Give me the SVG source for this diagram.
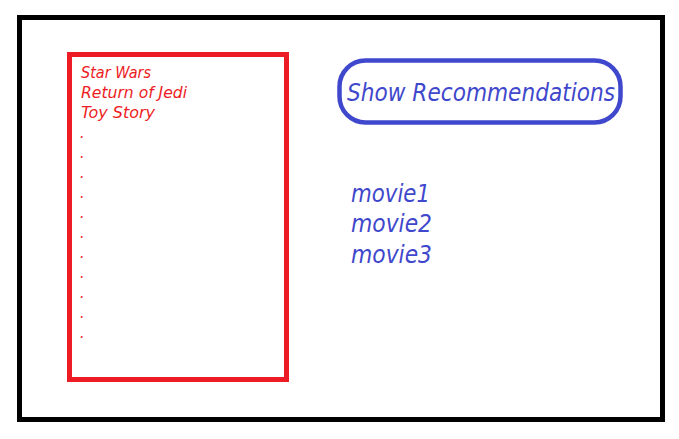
<svg xmlns="http://www.w3.org/2000/svg" width="679" height="439" viewBox="0 0 679 439">
<style>
.red{fill:#ed1c24;font-family:"DejaVu Sans Condensed","DejaVu Sans",sans-serif;font-style:oblique;font-size:15.5px}
.blue{fill:#3f48cc;font-family:"DejaVu Sans Condensed","DejaVu Sans",sans-serif;font-style:oblique}
</style>
<rect x="0" y="0" width="679" height="439" fill="#ffffff"/>
<g id="frame">
<rect x="19.5" y="17.5" width="643" height="402" fill="none" stroke="#000000" stroke-width="5"/>
</g>
<g id="movie-list">
<rect x="69.5" y="54.5" width="217" height="325" fill="none" stroke="#ed1c24" stroke-width="5"/>
<text class="red" x="81" y="78" textLength="70" lengthAdjust="spacingAndGlyphs">Star Wars</text>
<text class="red" x="81" y="98" textLength="106" lengthAdjust="spacingAndGlyphs">Return of Jedi</text>
<text class="red" x="81" y="118" textLength="74" lengthAdjust="spacingAndGlyphs">Toy Story</text>
<text class="red" x="80" y="138">.</text>
<text class="red" x="80" y="158">.</text>
<text class="red" x="80" y="178">.</text>
<text class="red" x="80" y="198">.</text>
<text class="red" x="80" y="218">.</text>
<text class="red" x="80" y="238">.</text>
<text class="red" x="80" y="258">.</text>
<text class="red" x="80" y="278">.</text>
<text class="red" x="80" y="298">.</text>
<text class="red" x="80" y="318">.</text>
<text class="red" x="80" y="338">.</text>
</g>
<g id="show-button">
<rect x="339.5" y="60.5" width="281" height="62" rx="26" ry="26" fill="none" stroke="#3f48cc" stroke-width="4.5"/>
<text class="blue" x="347" y="101" font-size="24" textLength="268" lengthAdjust="spacingAndGlyphs">Show Recommendations</text>
</g>
<g id="recommendations">
<text class="blue" x="351" y="202" font-size="25" textLength="79" lengthAdjust="spacingAndGlyphs">movie1</text>
<text class="blue" x="351" y="232" font-size="25" textLength="81" lengthAdjust="spacingAndGlyphs">movie2</text>
<text class="blue" x="351" y="263" font-size="25" textLength="81" lengthAdjust="spacingAndGlyphs">movie3</text>
</g>
<g id="connectors"></g>
</svg>
